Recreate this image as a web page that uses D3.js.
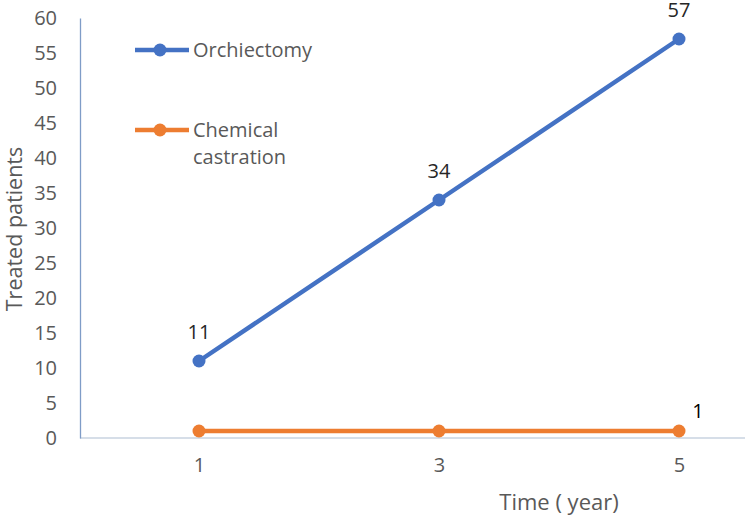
<!DOCTYPE html>
<html><head><meta charset="utf-8">
<script src="https://cdn.jsdelivr.net/npm/d3@7"></script>
<style>body{margin:0;background:#fff}svg{display:block}text{font-family:"Open Sans","Noto Sans",sans-serif}</style>
</head><body>
<svg id="c" width="745" height="519"></svg>
<script>
const categories = ["1", "3", "5"];
const orchiectomy = [11, 34, 57];
const chemical = [1, 1, 1];
const yTicks = [0,5,10,15,20,25,30,35,40,45,50,55,60];
const seriesNames = ["Orchiectomy", "Chemical castration"];

(function () {
const svg = d3.select("#c");
const left = 80, plotTop = 18, bottom = 438;
const x = d3.scalePoint().domain(categories).range([199, 679]);
const y = d3.scaleLinear().domain([0, 60]).range([bottom, plotTop]);

// baseline
svg.append("line").attr("x1", left).attr("x2", 745).attr("y1", bottom).attr("y2", bottom)
  .attr("stroke", "#c9d3e0").attr("stroke-width", 1.3);
// y axis
const ya = svg.append("g").attr("transform", `translate(${left},0)`)
  .call(d3.axisLeft(y).tickValues(yTicks).tickSize(0).tickPadding(23));
ya.select(".domain").attr("stroke", "#7f9cc7").attr("stroke-width", 1.3);
ya.selectAll("text").attr("font-size", 20).attr("fill", "#595959");

// x axis labels
const xa = svg.append("g").attr("transform", `translate(0,${bottom})`)
  .call(d3.axisBottom(x).tickSize(0).tickPadding(20));
xa.select(".domain").remove();
xa.selectAll("text").attr("font-size", 20).attr("fill", "#595959");

// titles
svg.append("text").attr("transform", "translate(22,229) rotate(-90)").attr("text-anchor", "middle")
  .attr("font-size", 21.5).attr("fill", "#595959").text("Treated patients");
svg.append("text").attr("x", 559).attr("y", 510).attr("text-anchor", "middle")
  .attr("font-size", 22).attr("fill", "#595959").text("Time ( year)");

const series = [
  {name: seriesNames[0], vals: orchiectomy, color: "#4472C4"},
  {name: seriesNames[1], vals: chemical, color: "#ED7D31"}
];
const line = d3.line().x((d, i) => x(categories[i])).y(d => y(d));
series.forEach(s => {
  svg.append("path").datum(s.vals).attr("d", line).attr("fill", "none")
    .attr("stroke", s.color).attr("stroke-width", 4.5);
  svg.selectAll(null).data(s.vals).enter().append("circle")
    .attr("cx", (d, i) => x(categories[i])).attr("cy", d => y(d)).attr("r", 6.5).attr("fill", s.color);
});

// data labels
svg.selectAll(null).data(orchiectomy).enter().append("text")
  .attr("x", (d, i) => x(categories[i])).attr("y", d => y(d) - 22).attr("text-anchor", "middle")
  .attr("font-size", 20).attr("fill", "#262626").text(d => d);
svg.append("text").attr("x", 698).attr("y", y(chemical[2]) - 13).attr("text-anchor", "middle")
  .attr("font-size", 20).attr("fill", "#000").text(chemical[2]);

// legend
const lg = [{y: 50, lines: ["Orchiectomy"]}, {y: 130, lines: ["Chemical", "castration"]}];
series.forEach((s, i) => {
  const g = svg.append("g");
  g.append("line").attr("x1", 135).attr("x2", 189).attr("y1", lg[i].y).attr("y2", lg[i].y)
    .attr("stroke", s.color).attr("stroke-width", 4.5);
  g.append("circle").attr("cx", 160).attr("cy", lg[i].y).attr("r", 6.5).attr("fill", s.color);
  lg[i].lines.forEach((t, j) => {
    g.append("text").attr("x", 193).attr("y", lg[i].y + 7 + j * 27).attr("font-size", 20)
      .attr("fill", "#595959").text(t);
  });
});
})();
</script>
</body></html>
